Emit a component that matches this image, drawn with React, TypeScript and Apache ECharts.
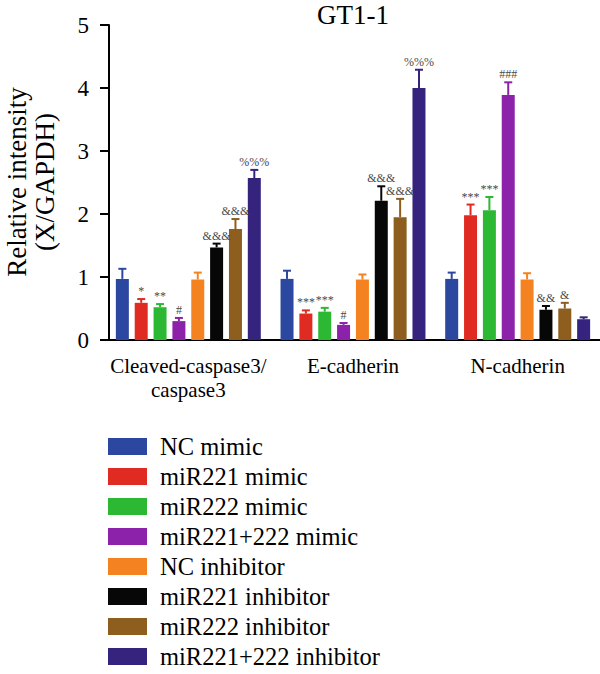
import React, { useEffect, useRef } from 'react';
import * as echarts from 'echarts';

const categories = ['Cleaved-caspase3/\ncaspase3', 'E-cadherin', 'N-cadherin'];
const seriesNames = [
  'NC mimic',
  'miR221 mimic',
  'miR222 mimic',
  'miR221+222 mimic',
  'NC inhibitor',
  'miR221 inhibitor',
  'miR222 inhibitor',
  'miR221+222 inhibitor',
];
const colors = ['#2C47A0', '#E02B22', '#2DB833', '#8D22AA', '#F58220', '#070707', '#8E5E1F', '#36237E'];

// values per series (Cleaved-caspase3/caspase3, E-cadherin, N-cadherin)
const ncMimic = [0.97, 0.97, 0.97];
const mir221Mimic = [0.59, 0.42, 1.98];
const mir222Mimic = [0.52, 0.45, 2.06];
const mir221222Mimic = [0.30, 0.24, 3.89];
const ncInhibitor = [0.96, 0.96, 0.96];
const mir221Inhibitor = [1.47, 2.21, 0.48];
const mir222Inhibitor = [1.76, 1.95, 0.50];
const mir221222Inhibitor = [2.57, 4.0, 0.33];

// error (SD) per series
const ncMimicErr = [0.16, 0.13, 0.10];
const mir221MimicErr = [0.06, 0.05, 0.17];
const mir222MimicErr = [0.05, 0.06, 0.21];
const mir221222MimicErr = [0.05, 0.03, 0.20];
const ncInhibitorErr = [0.11, 0.08, 0.10];
const mir221InhibitorErr = [0.06, 0.23, 0.06];
const mir222InhibitorErr = [0.16, 0.29, 0.09];
const mir221222InhibitorErr = [0.13, 0.29, 0.03];

// significance marks
const ncMimicSig = ['', '', ''];
const mir221MimicSig = ['*', '***', '***'];
const mir222MimicSig = ['**', '***', '***'];
const mir221222MimicSig = ['#', '#', '###'];
const ncInhibitorSig = ['', '', ''];
const mir221InhibitorSig = ['&&&', '&&&', '&&'];
const mir222InhibitorSig = ['&&&', '&&&', '&'];
const mir221222InhibitorSig = ['%%%', '%%%', ''];

const yTicks = [0, 1, 2, 3, 4, 5];

const values = [ncMimic, mir221Mimic, mir222Mimic, mir221222Mimic, ncInhibitor, mir221Inhibitor, mir222Inhibitor, mir221222Inhibitor];
const errors = [ncMimicErr, mir221MimicErr, mir222MimicErr, mir221222MimicErr, ncInhibitorErr, mir221InhibitorErr, mir222InhibitorErr, mir221222InhibitorErr];
const sigs = [ncMimicSig, mir221MimicSig, mir222MimicSig, mir221222MimicSig, ncInhibitorSig, mir221InhibitorSig, mir222InhibitorSig, mir221222InhibitorSig];

const FONT = 'Liberation Serif';
const BAR_W = 13;
const BAR_GAP = 0.45;

export default function App() {
  const ref = useRef<HTMLDivElement>(null);
  useEffect(() => {
    document.body.style.margin = '0';
    const chart = echarts.init(ref.current!, null, { renderer: 'svg' });
    const n = seriesNames.length;
    const pitch = BAR_W * (1 + BAR_GAP);
    const total = n * BAR_W + (n - 1) * BAR_W * BAR_GAP;
    const offsetOf = (i: number) => -total / 2 + BAR_W / 2 + i * pitch;

    const barSeries = seriesNames.map((name, i) => ({
      name,
      type: 'bar',
      data: values[i],
      barWidth: BAR_W,
      barGap: BAR_GAP * 100 + '%',
      itemStyle: { color: colors[i] },
      z: 2,
    }));

    const errSeries = seriesNames.map((name, i) => ({
      name: name + ' error',
      type: 'custom',
      z: 3,
      data: categories.map((_, j) => [j, values[i][j], errors[i][j]]),
      renderItem: (params: any, api: any) => {
        const ci = api.value(0);
        const v = api.value(1);
        const e = api.value(2);
        const p0 = api.coord([ci, v]);
        const p1 = api.coord([ci, v + e]);
        const x = p0[0] + offsetOf(i);
        const st = { stroke: colors[i], lineWidth: 2 };
        const label = sigs[i][ci];
        const children: any[] = [
          { type: 'line', shape: { x1: x, y1: p0[1], x2: x, y2: p1[1] }, style: st },
          { type: 'line', shape: { x1: x - 4, y1: p1[1], x2: x + 4, y2: p1[1] }, style: st },
        ];
        if (label) {
          children.push({
            type: 'text',
            style: {
              text: label,
              x,
              y: p1[1] - 2,
              align: 'center',
              verticalAlign: 'bottom',
              fill: '#4a4a4a',
              fontSize: 12,
              fontFamily: FONT,
            },
          });
        }
        return { type: 'group', children };
      },
    }));

    chart.setOption({
      animation: false,
      backgroundColor: '#fff',
      textStyle: { fontFamily: FONT },
      grid: { left: 106, right: 0, top: 25, height: 315 },
      xAxis: {
        type: 'category',
        data: categories,
        axisLine: { lineStyle: { color: '#000', width: 2 } },
        axisTick: { alignWithLabel: true, length: 10, lineStyle: { color: '#000', width: 2 } },
        axisLabel: { color: '#000', fontSize: 21, fontFamily: FONT, margin: 14, lineHeight: 24, interval: 0 },
      },
      yAxis: {
        type: 'value',
        min: yTicks[0],
        max: yTicks[yTicks.length - 1],
        interval: 1,
        offset: -3,
        splitLine: { show: false },
        axisLine: { show: true, lineStyle: { color: '#000', width: 2 } },
        axisTick: { show: true, length: 9, lineStyle: { color: '#000', width: 2 } },
        axisLabel: { color: '#000', fontSize: 23, fontFamily: FONT, margin: 20 },
      },
      legend: {
        data: seriesNames,
        orient: 'vertical',
        left: 108,
        top: 434,
        height: 240,
        padding: 0,
        icon: 'rect',
        itemWidth: 39,
        itemHeight: 17,
        itemGap: 5,
        textStyle: { color: '#000', fontSize: 24.5, fontFamily: FONT, padding: [0, 0, 0, 8] },
      },
      graphic: [
        {
          type: 'text',
          x: 353,
          y: 15,
          style: { text: 'GT1-1', fontSize: 27, fontFamily: FONT, fill: '#000', align: 'center', verticalAlign: 'middle' },
        },
        {
          type: 'text',
          x: 31,
          y: 182,
          rotation: Math.PI / 2,
          style: {
            text: 'Relative intensity\n(X/GAPDH)',
            fontSize: 27,
            lineHeight: 28,
            fontFamily: FONT,
            fill: '#000',
            align: 'center',
            verticalAlign: 'middle',
          },
        },
      ],
      series: [...barSeries, ...errSeries],
    });
    return () => chart.dispose();
  }, []);
  return <div ref={ref} style={{ width: 600, height: 674 }} />;
}
